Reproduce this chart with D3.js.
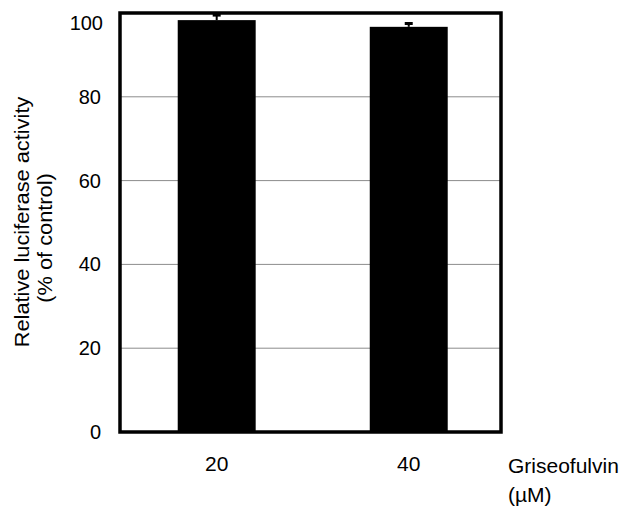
<!DOCTYPE html>
<html>
<head>
<meta charset="utf-8">
<script src="https://cdn.jsdelivr.net/npm/d3@7"></script>
<style>
  body { margin: 0; background: #fff; }
  text { font-family: "Liberation Sans", Arial, sans-serif; fill: #000; }
</style>
</head>
<body>
<div id="chart"></div>
<script>
// Data
const doses = ["20", "40"];
const means = [98.3, 96.7];
const errors = [1.2, 0.8];
const yTicks = [0, 20, 40, 60, 80, 100];

const W = 621, H = 509;
const plot = { left: 120, right: 501, top: 13, bottom: 432 };

const svg = d3.select("#chart")
    .append("svg")
    .attr("width", W)
    .attr("height", H);

const x = d3.scaleBand()
    .domain(doses)
    .range([plot.left, plot.right])
    .paddingInner(0.594)
    .paddingOuter(0.289)
    .align(0.52);

const y = d3.scaleLinear()
    .domain([0, 100])
    .range([plot.bottom, plot.top]);

// Gridlines
svg.append("g")
    .selectAll("line")
    .data(yTicks.filter(t => t > 0 && t < 100))
    .enter()
    .append("line")
    .attr("x1", plot.left)
    .attr("x2", plot.right)
    .attr("y1", d => y(d))
    .attr("y2", d => y(d))
    .attr("stroke", "#8c8c8c")
    .attr("stroke-width", 1);

const data = doses.map((d, i) => ({ dose: d, mean: means[i], err: errors[i] }));

// Bars
svg.append("g")
    .selectAll("rect")
    .data(data)
    .enter()
    .append("rect")
    .attr("x", d => x(d.dose))
    .attr("y", d => y(d.mean))
    .attr("width", x.bandwidth())
    .attr("height", d => y(0) - y(d.mean))
    .attr("fill", "#000");

// Error bars (upper only)
const eb = svg.append("g").attr("stroke", "#000").attr("stroke-width", 2);
eb.selectAll(".stem")
    .data(data)
    .enter()
    .append("line")
    .attr("x1", d => x(d.dose) + x.bandwidth() / 2)
    .attr("x2", d => x(d.dose) + x.bandwidth() / 2)
    .attr("y1", d => y(d.mean))
    .attr("y2", d => y(d.mean + d.err));
eb.selectAll(".cap")
    .data(data)
    .enter()
    .append("line")
    .attr("x1", d => x(d.dose) + x.bandwidth() / 2 - 4)
    .attr("x2", d => x(d.dose) + x.bandwidth() / 2 + 4)
    .attr("y1", d => y(d.mean + d.err))
    .attr("y2", d => y(d.mean + d.err))
    .attr("stroke-width", 3);

// Frame
svg.append("rect")
    .attr("x", plot.left)
    .attr("y", plot.top)
    .attr("width", plot.right - plot.left)
    .attr("height", plot.bottom - plot.top)
    .attr("fill", "none")
    .attr("stroke", "#000")
    .attr("stroke-width", 3.5);

// Y axis labels
const yAxis = svg.append("g")
    .attr("transform", `translate(${plot.left - 19},0)`)
    .call(d3.axisLeft(y).tickValues(yTicks).tickSize(0).tickPadding(0));
yAxis.select(".domain").remove();
yAxis.selectAll("text")
    .style("font-size", "20px")
    .style("font-family", "'Liberation Sans', Arial, sans-serif")
    .attr("fill", "#000");
yAxis.selectAll(".tick")
    .filter(d => d === 100)
    .select("text")
    .attr("dy", "0.8em")
    .attr("x", 2);

// X axis labels
const xAxis = svg.append("g")
    .attr("transform", `translate(0,${plot.bottom + 24})`)
    .call(d3.axisBottom(x).tickSize(0).tickPadding(0));
xAxis.select(".domain").remove();
xAxis.selectAll("text")
    .style("font-size", "21px")
    .style("font-family", "'Liberation Sans', Arial, sans-serif")
    .attr("fill", "#000");

// X title
svg.append("text")
    .attr("x", 508)
    .attr("y", 473)
    .style("font-size", "21px")
    .text("Griseofulvin");
svg.append("text")
    .attr("x", 508)
    .attr("y", 502)
    .style("font-size", "21px")
    .text("(\u00b5M)");

// Y title
svg.append("text")
    .attr("transform", "translate(29,222) rotate(-90) scale(1.09,1)")
    .attr("text-anchor", "middle")
    .style("font-size", "20px")
    .text("Relative luciferase activity");
svg.append("text")
    .attr("transform", "translate(52,238) rotate(-90) scale(1.09,1)")
    .attr("text-anchor", "middle")
    .style("font-size", "20px")
    .text("(% of control)");
</script>
</body>
</html>
